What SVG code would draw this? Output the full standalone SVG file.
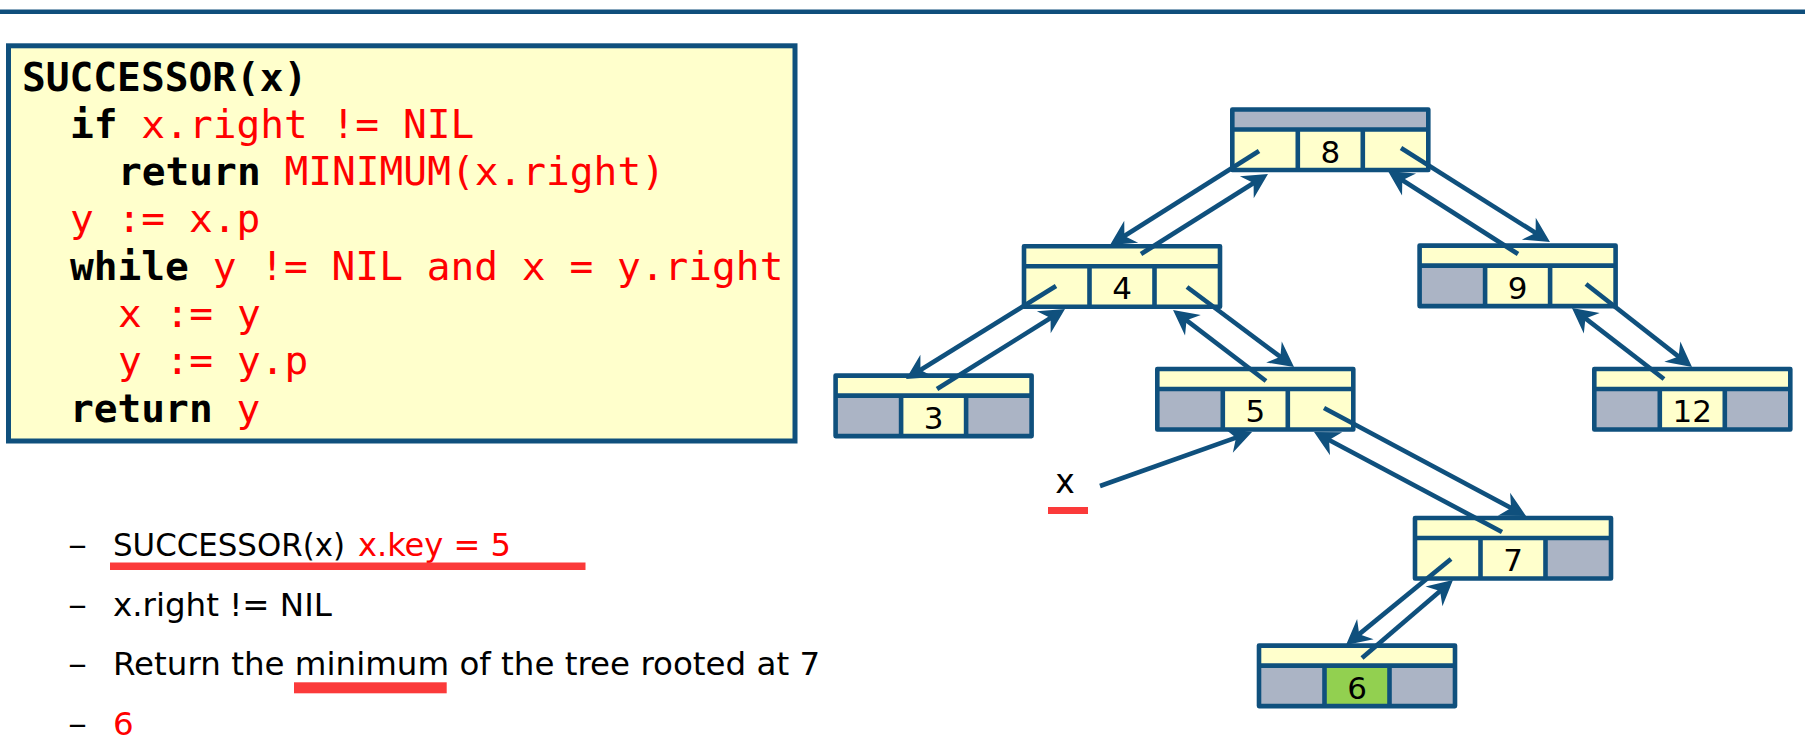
<svg xmlns="http://www.w3.org/2000/svg" width="1805" height="755" viewBox="0 0 1805 755">
<style>
.code{font-family:"DejaVu Sans Mono","Liberation Mono",monospace;font-size:39.5px}
.kw{font-weight:bold;fill:#000}
.rd{fill:#ff0000}
.txt{font-family:"DejaVu Sans","Open Sans",sans-serif;font-size:32.5px;fill:#000}
.key{font-family:"DejaVu Sans","Open Sans",sans-serif;font-size:31px;fill:#000;text-anchor:middle}
.y{fill:#ffffcc}
.g{fill:#abb4c5}
.gr{fill:#92d050}
.ol{fill:none;stroke:#0f507d;stroke-width:4.6;stroke-linejoin:round}
.conn line{stroke:#0f507d;stroke-width:4.6;marker-end:url(#ah)}
.ul{fill:#fb3a3a}
</style>
<defs>
<marker id="ah" markerUnits="userSpaceOnUse" orient="auto" refX="-8" refY="0" markerWidth="30" markerHeight="30" overflow="visible">
<path d="M0,0 L-25,-13 L-17,0 L-25,13 Z" fill="#0f507d"/>
</marker>
</defs>
<rect x="0" y="0" width="1805" height="755" fill="#ffffff"/>
<rect x="0" y="9.5" width="1805" height="4.5" fill="#0f4f7c"/>

<g id="code">
<rect x="8.5" y="45.8" width="786.5" height="395.2" fill="#ffffcc" stroke="#0f507d" stroke-width="5"/>
<text class="code" xml:space="preserve" x="22" y="91"><tspan class="kw">SUCCESSOR(x)</tspan></text>
<text class="code" xml:space="preserve" x="70" y="138"><tspan class="kw">if</tspan><tspan class="rd"> x.right != NIL</tspan></text>
<text class="code" xml:space="preserve" x="118" y="185"><tspan class="kw">return</tspan><tspan class="rd"> MINIMUM(x.right)</tspan></text>
<text class="code rd" xml:space="preserve" x="70" y="232">y := x.p</text>
<text class="code" xml:space="preserve" x="70" y="279.5"><tspan class="kw">while</tspan><tspan class="rd"> y != NIL and x = y.right</tspan></text>
<text class="code rd" xml:space="preserve" x="118" y="327">x := y</text>
<text class="code rd" xml:space="preserve" x="118" y="374">y := y.p</text>
<text class="code" xml:space="preserve" x="70" y="421.5"><tspan class="kw">return</tspan><tspan class="rd"> y</tspan></text>
</g>

<g id="bullets">
<text class="txt" x="68" y="556" textLength="19" lengthAdjust="spacingAndGlyphs">–</text>
<text class="txt" x="113" y="556" textLength="232" lengthAdjust="spacingAndGlyphs">SUCCESSOR(x)</text>
<text class="txt" x="358" y="556" style="fill:#ff0000" textLength="153" lengthAdjust="spacingAndGlyphs">x.key = 5</text>
<rect class="ul" x="110" y="562.5" width="475.5" height="7.5"/>
<text class="txt" x="68" y="615.5" textLength="19" lengthAdjust="spacingAndGlyphs">–</text>
<text class="txt" x="113" y="615.5">x.right != NIL</text>
<text class="txt" x="68" y="675" textLength="19" lengthAdjust="spacingAndGlyphs">–</text>
<text class="txt" x="113" y="675">Return the minimum of the tree rooted at 7</text>
<rect class="ul" x="294" y="682.3" width="152.7" height="11"/>
<text class="txt" x="68" y="734.5" textLength="19" lengthAdjust="spacingAndGlyphs">–</text>
<text class="txt" x="113" y="734.5" style="fill:#ff0000">6</text>
</g>

<g id="node8">
<rect class="g" x="1232.3" y="109.5" width="196" height="20"/>
<rect class="y" x="1232.3" y="129.5" width="196" height="40.5"/>
<rect class="ol" x="1232.3" y="109.5" width="196" height="60.5"/>
<path class="ol" d="M1232.3,129.5H1428.3M1297.8,129.5V170M1362.8,129.5V170"/>
<text class="key" x="1330.3" y="162.5">8</text>
</g>

<g id="node4">
<rect class="y" x="1024" y="246.3" width="196" height="60.5"/>
<rect class="ol" x="1024" y="246.3" width="196" height="60.5"/>
<path class="ol" d="M1024,266.3H1220M1089.5,266.3V306.8M1154.5,266.3V306.8"/>
<text class="key" x="1122" y="299.3">4</text>
</g>

<g id="node9">
<rect class="y" x="1419.6" y="245.6" width="196" height="60.5"/>
<rect class="g" x="1419.6" y="265.6" width="65.5" height="40.5"/>
<rect class="ol" x="1419.6" y="245.6" width="196" height="60.5"/>
<path class="ol" d="M1419.6,265.6H1615.6M1485.1,265.6V306.1M1550.1,265.6V306.1"/>
<text class="key" x="1517.6" y="298.6">9</text>
</g>

<g id="node3">
<rect class="y" x="835.6" y="375.6" width="196" height="60.5"/>
<rect class="g" x="835.6" y="395.6" width="65.5" height="40.5"/>
<rect class="g" x="966.1" y="395.6" width="65.5" height="40.5"/>
<rect class="ol" x="835.6" y="375.6" width="196" height="60.5"/>
<path class="ol" d="M835.6,395.6H1031.6M901.1,395.6V436.1M966.1,395.6V436.1"/>
<text class="key" x="933.6" y="428.6">3</text>
</g>

<g id="node5">
<rect class="y" x="1157.3" y="369" width="196" height="60.5"/>
<rect class="g" x="1157.3" y="389" width="65.5" height="40.5"/>
<rect class="ol" x="1157.3" y="369" width="196" height="60.5"/>
<path class="ol" d="M1157.3,389H1353.3M1222.8,389V429.5M1287.8,389V429.5"/>
<text class="key" x="1255.3" y="422">5</text>
</g>

<g id="node12">
<rect class="y" x="1594.3" y="369" width="196" height="60.5"/>
<rect class="g" x="1594.3" y="389" width="65.5" height="40.5"/>
<rect class="g" x="1724.8" y="389" width="65.5" height="40.5"/>
<rect class="ol" x="1594.3" y="369" width="196" height="60.5"/>
<path class="ol" d="M1594.3,389H1790.3M1659.8,389V429.5M1724.8,389V429.5"/>
<text class="key" x="1692.3" y="422">12</text>
</g>

<g id="node7">
<rect class="y" x="1415" y="518" width="196" height="60.5"/>
<rect class="g" x="1545.5" y="538" width="65.5" height="40.5"/>
<rect class="ol" x="1415" y="518" width="196" height="60.5"/>
<path class="ol" d="M1415,538H1611M1480.5,538V578.5M1545.5,538V578.5"/>
<text class="key" x="1513" y="571">7</text>
</g>

<g id="node6">
<rect class="y" x="1259" y="645.6" width="196" height="60.5"/>
<rect class="g" x="1259" y="665.6" width="65.5" height="40.5"/>
<rect class="gr" x="1324.5" y="665.6" width="65" height="40.5"/>
<rect class="g" x="1389.5" y="665.6" width="65.5" height="40.5"/>
<rect class="ol" x="1259" y="645.6" width="196" height="60.5"/>
<path class="ol" d="M1259,665.6H1455M1324.5,665.6V706.1M1389.5,665.6V706.1"/>
<text class="key" x="1357" y="698.6">6</text>
</g>

<g id="xlabel">
<text class="key" x="1065" y="493" style="font-size:33px">x</text>
<rect class="ul" x="1048" y="507" width="40" height="7"/>
</g>

<g id="connectors" class="conn">
<line x1="1259" y1="151" x2="1116.8" y2="240.7"/>
<line x1="1141" y1="254" x2="1261.2" y2="178.3"/>
<line x1="1401" y1="148" x2="1543.2" y2="237.7"/>
<line x1="1518" y1="254" x2="1394.7" y2="175.3"/>
<line x1="1056" y1="286" x2="912.8" y2="374.8"/>
<line x1="937" y1="389" x2="1058.2" y2="313.2"/>
<line x1="1187" y1="287" x2="1287.6" y2="362.2"/>
<line x1="1266" y1="381" x2="1179.4" y2="314.9"/>
<line x1="1586" y1="284" x2="1685.7" y2="362.1"/>
<line x1="1664" y1="379" x2="1578.3" y2="312.9"/>
<line x1="1324" y1="408" x2="1519" y2="512.2"/>
<line x1="1502" y1="532" x2="1321.1" y2="435.8"/>
<line x1="1100" y1="486" x2="1244.5" y2="434.7"/>
<line x1="1451" y1="559" x2="1352.2" y2="639.9"/>
<line x1="1362" y1="658" x2="1446.9" y2="585.2"/>
</g>
</svg>
